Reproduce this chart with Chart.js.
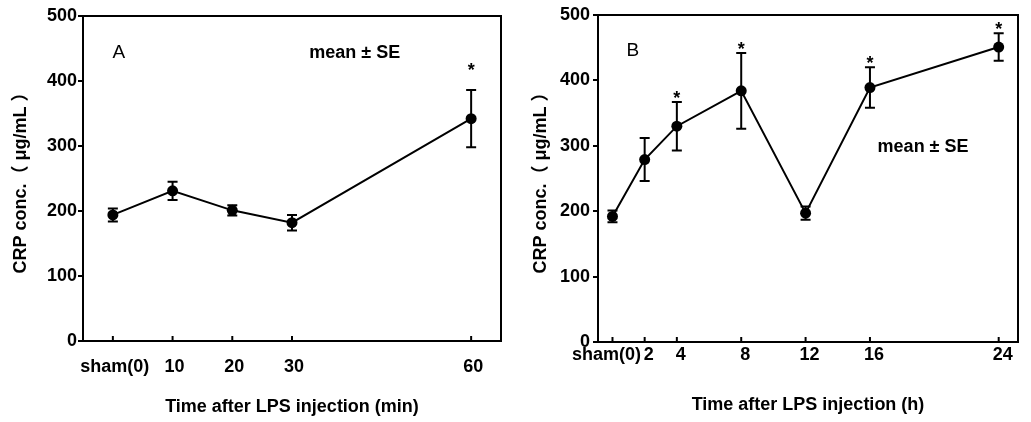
<!DOCTYPE html>
<html><head><meta charset="utf-8">
<script src="https://cdn.jsdelivr.net/npm/chart.js@4.4.0/dist/chart.umd.min.js"></script>
<style>
html,body{margin:0;padding:0;background:#fff;}
#wrap{position:relative;width:1031px;height:422px;overflow:hidden;}
#cA{position:absolute;left:0;top:0;}
#cB{position:absolute;left:515px;top:0;}
</style></head><body>
<div id="wrap"><canvas id="cA" width="515" height="422"></canvas><canvas id="cB" width="516" height="422"></canvas></div>
<script>
// Panel A: minutes after LPS injection
const timesA = [0, 10, 20, 30, 60];
const tickLabelsA = ['sham(0)', '10', '20', '30', '60'];
const meanA = [194, 231, 201, 182, 342];
const seA = [10, 14, 8, 12, 44];
const starA = [false, false, false, false, true];

// Panel B: hours after LPS injection
const timesB = [0, 2, 4, 8, 12, 16, 24];
const tickLabelsB = ['sham(0)', '2', '4', '8', '12', '16', '24'];
const meanB = [192, 279, 330, 384, 197, 389, 451];
const seB = [9, 33, 37, 58, 10, 31, 21];
const starB = [false, false, true, true, false, true, true];

const yMin = 0, yMax = 500, yStep = 100;
const yTitle = 'CRP conc.（ μg/mL ）';
const FONT = '"Liberation Sans", Arial, "Noto Sans CJK JP", sans-serif';

function makeChart(id, times, labels, mean, se, star, o) {
  const errPlugin = {
    id: 'err' + id,
    afterDatasetsDraw(chart) {
      const ctx = chart.ctx, xs = chart.scales.x, ys = chart.scales.y, ca = chart.chartArea;
      ctx.save();
      ctx.strokeStyle = '#000';
      ctx.lineWidth = 2;
      ctx.strokeRect(ca.left, ca.top, ca.right - ca.left, ca.bottom - ca.top);
      times.forEach(t => {
        const px = xs.getPixelForValue(t);
        ctx.beginPath(); ctx.moveTo(px, ca.bottom); ctx.lineTo(px, ca.bottom - 5); ctx.stroke();
      });
      times.forEach((t, i) => {
        const px = xs.getPixelForValue(t);
        const top = ys.getPixelForValue(mean[i] + se[i]);
        const bot = ys.getPixelForValue(mean[i] - se[i]);
        ctx.beginPath();
        ctx.moveTo(px, top); ctx.lineTo(px, bot);
        ctx.moveTo(px - 5, top); ctx.lineTo(px + 5, top);
        ctx.moveTo(px - 5, bot); ctx.lineTo(px + 5, bot);
        ctx.stroke();
        if (star[i]) {
          ctx.fillStyle = '#000';
          ctx.font = 'bold 18px ' + FONT;
          ctx.textAlign = 'center';
          ctx.textBaseline = 'middle';
          ctx.fillText('*', px, top - o.starGap + 4);
        }
      });
      ctx.fillStyle = '#000';
      ctx.textAlign = 'center';
      ctx.textBaseline = 'middle';
      ctx.font = '19px ' + FONT;
      ctx.fillText(o.letter, xs.getPixelForValue(o.letterPos[0]), ys.getPixelForValue(o.letterPos[1]));
      ctx.font = 'bold 18px ' + FONT;
      ctx.fillText('mean ± SE', xs.getPixelForValue(o.notePos[0]), ys.getPixelForValue(o.notePos[1]));
      ctx.restore();
    }
  };
  return new Chart(document.getElementById(id), {
    type: 'line',
    data: {
      datasets: [{
        data: times.map((t, i) => ({x: t, y: mean[i]})),
        borderColor: '#000', borderWidth: 2, tension: 0,
        pointRadius: 5.5, pointBackgroundColor: '#000', pointBorderColor: '#000', pointBorderWidth: 0,
        clip: false
      }]
    },
    options: {
      responsive: false, animation: false, devicePixelRatio: 1,
      layout: {padding: {left: 0, top: o.padTop, right: o.padRight, bottom: 0}},
      plugins: {legend: {display: false}, tooltip: {enabled: false}},
      scales: {
        x: {
          type: 'linear', min: o.xMin, max: o.xMax,
          afterBuildTicks: s => { s.ticks = times.map(v => ({value: v})); },
          afterFit: s => { s.height = o.xHeight; },
          grid: {display: false, drawTicks: false}, border: {display: false},
          ticks: {
            autoSkip: false, maxRotation: 0, padding: o.xTickPad, color: '#000',
            labelOffset: o.labelOffset,
            font: {family: FONT, size: 18, weight: 'bold'},
            callback: (v, i) => i === 0 ? labels[i] + o.firstPad : labels[i]
          },
          title: {
            display: true, text: o.xTitle, color: '#000',
            font: {family: FONT, size: 18, weight: 'bold'},
            padding: {top: 0, bottom: o.xTitlePad}
          }
        },
        y: {
          type: 'linear', min: yMin, max: yMax,
          afterFit: s => { s.width = o.yWidth; },
          grid: {drawOnChartArea: false, drawTicks: true, tickLength: 5, color: '#000', lineWidth: 2},
          border: {display: false},
          ticks: {stepSize: yStep, padding: o.yTickPad, color: '#000',
            font: {family: FONT, size: 18, weight: 'bold'}},
          title: {
            display: true, text: yTitle, color: '#000',
            font: {family: FONT, size: 18, weight: 'bold'},
            padding: {top: o.yTitlePad, bottom: 0}
          }
        }
      }
    },
    plugins: [errPlugin]
  });
}

makeChart('cA', timesA, tickLabelsA, meanA, seA, starA, {
  xMin: -5, xMax: 65, padTop: 16, padRight: 14, xHeight: 81, yWidth: 83,
  xTickPad: 15, xTitlePad: 4, yTickPad: 1, yTitlePad: 10, starGap: 23,
  labelOffset: 2, firstPad: '',
  xTitle: 'Time after LPS injection (min)', letter: 'A', letterPos: [1, 443], notePos: [40.5, 443]
});
makeChart('cB', timesB, tickLabelsB, meanB, seB, starB, {
  xMin: -0.9, xMax: 25.2, padTop: 15, padRight: 13, xHeight: 80, yWidth: 83,
  xTickPad: 2, xTitlePad: 6, yTickPad: 3, yTitlePad: 15, starGap: 7,
  labelOffset: 4, firstPad: '    ',
  xTitle: 'Time after LPS injection (h)', letter: 'B', letterPos: [1.27, 446], notePos: [19.3, 298]
});
</script>
</body></html>
